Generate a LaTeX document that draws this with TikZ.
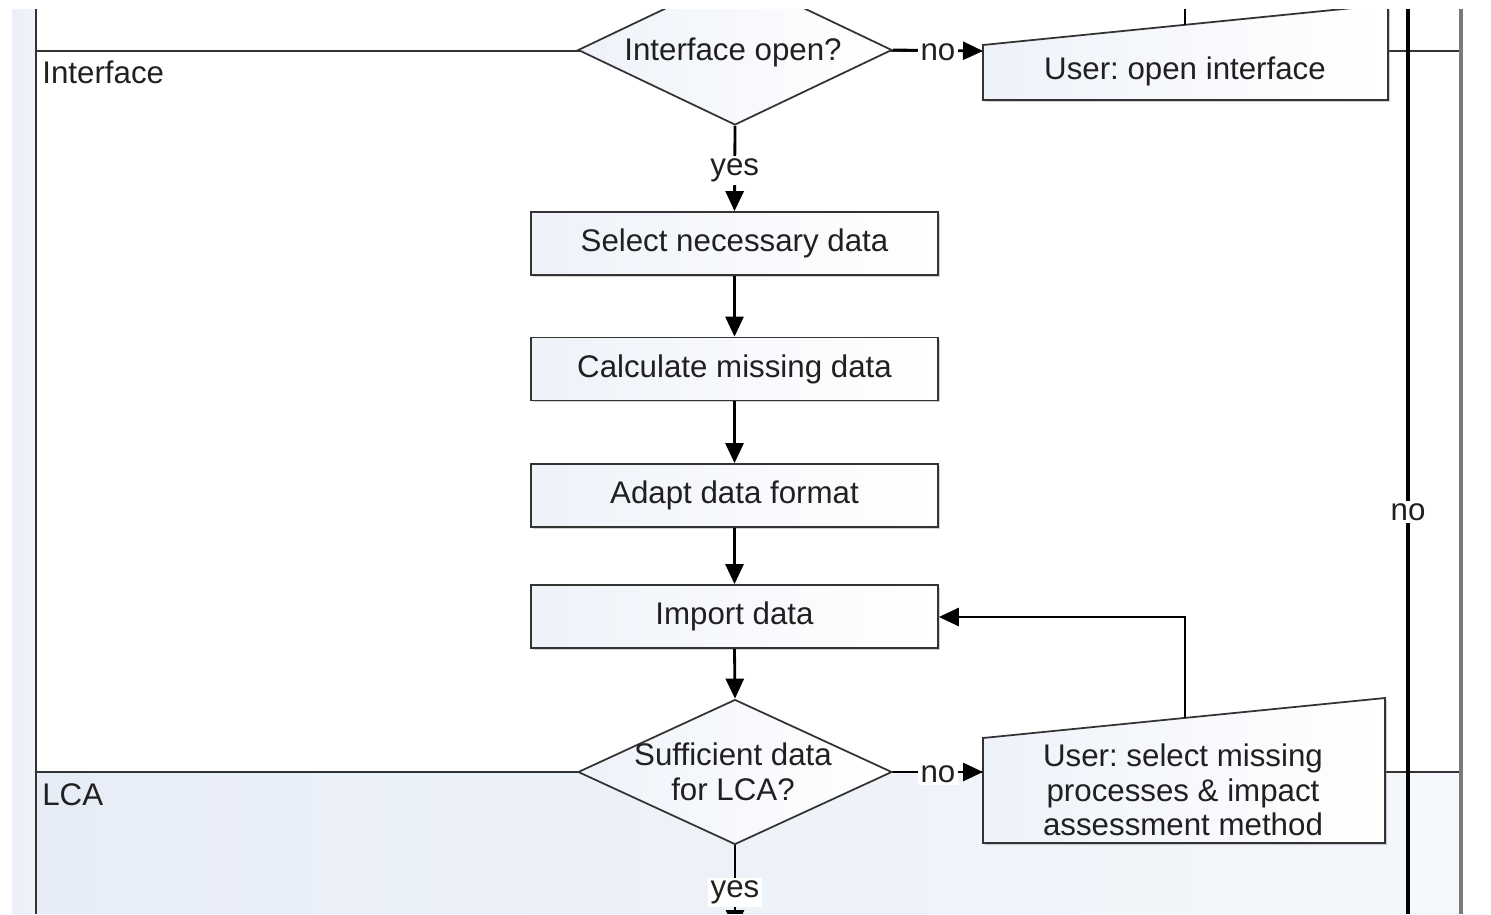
\documentclass[tikz,border=0pt]{standalone}
\usepackage{fontspec}
\setmainfont{Liberation Sans}
\frenchspacing
\usetikzlibrary{shapes.geometric,arrows.meta,shadows}
\definecolor{lanebg}{HTML}{E7EDF7}
\definecolor{lanebgr}{HTML}{F4F7FB}
\definecolor{stripbg}{HTML}{EBF0F8}
\definecolor{shapebg}{HTML}{EEF2F9}
\definecolor{edge}{HTML}{333333}
\definecolor{txt}{HTML}{202020}
\definecolor{rim}{HTML}{7A7A7A}
\tikzset{
  stepbox/.style={draw=edge, line width=1pt, left color=shapebg, right color=white,
    minimum width=8.14cm, minimum height=1.26cm, inner sep=0pt,
    drop shadow={opacity=0.35, shadow xshift=0.04cm, shadow yshift=-0.04cm}},
  decide/.style={diamond, draw=edge, line width=1pt, left color=shapebg, right color=white,
    inner sep=0pt},
  manual/.style={draw=edge, line width=1pt, left color=shapebg, right color=white},
  flow/.style={-{Triangle[length=0.4cm,width=0.36cm]}, line width=1.6pt, black},
  plain/.style={line width=1.6pt, black},
  lab/.style={fill=white, inner sep=1.5pt, text=txt, yshift=-1.2pt},
  lane/.style={line width=1.3pt, edge},
}
\begin{document}
\begin{tikzpicture}[x=0.02cm, y=-0.02cm, font=\fontsize{17.8}{19.8}\selectfont, text=txt]
\useasboundingbox (0,0) rectangle (1491,915);
\fill[white] (0,0) rectangle (1491,915);
\begin{scope}
\clip (12,10) rectangle (1465,913);
% backgrounds
\shade[left color=stripbg, right color=stripbg!70!white] (12,0) rectangle (36,930);
\shade[left color=lanebg, right color=lanebgr] (36,772) rectangle (1461,930);
% lane lines
\draw[lane] (36,51) -- (1461,51);
\draw[lane] (36,772) -- (1461,772);
\draw[line width=1.6pt, edge] (36,0) -- (36,930);
\draw[line width=2pt, rim] (1461,0) -- (1461,930);
\node[anchor=north west, inner sep=0pt] (laneA) at (42,61) {Interface};
\node[anchor=north west, inner sep=0pt] (laneB) at (42,783) {LCA};

% long return line on the right
\coordinate (rtop) at (1408,-10);
\coordinate (rbot) at (1408,940);
\draw[line width=2pt, black] (rtop) -- node[lab, pos=0.547] {no} (rbot);

% decisions
\node[decide, minimum width=6.28cm, minimum height=3cm] (d1) at (735,50) {};
\node (d1t) at (733,52) {Interface open?};
\node[decide, minimum width=6.28cm, minimum height=2.9cm] (d2) at (735,772) {};
\node[align=center] (d2t) at (733,772) {Sufficient data\\for LCA?};

% steps
\node[stepbox] (b1) at (734.5,243.5) {Select necessary data};
\node[stepbox] (b2) at (734.5,369) {Calculate missing data};
\node[stepbox] (b3) at (734.5,495.5) {Adapt data format};
\node[stepbox] (b4) at (734.5,616.5) {Import data};

% manual inputs
\coordinate (m1a) at (983,45);
\coordinate (m1b) at (1388,4.5);
\coordinate (m1c) at (1388,100);
\coordinate (m1d) at (983,100);
\draw[manual, drop shadow={opacity=0.35, shadow xshift=0.04cm, shadow yshift=-0.04cm}] (m1a) -- (m1b) -- (m1c) -- (m1d) -- cycle;
\node (m1) at (1185,71) {User: open interface};
\coordinate (m1in) at (983,51);
\coordinate (m1top) at (1185,24.8);
\coordinate (m1up) at (1185,-10);

\coordinate (m2a) at (983,738);
\coordinate (m2b) at (1385,698);
\coordinate (m2c) at (1385,843);
\coordinate (m2d) at (983,843);
\draw[manual, drop shadow={opacity=0.35, shadow xshift=0.04cm, shadow yshift=-0.04cm}] (m2a) -- (m2b) -- (m2c) -- (m2d) -- cycle;
\node[align=center] (m2) at (1183,790) {User: select missing\\processes \& impact\\assessment method};
\coordinate (m2in) at (983,772);
\coordinate (m2top) at (1185,717.9);
\coordinate (loop) at (1185,617);
\coordinate (down) at (735,930);

% connectors
\draw[flow] (d1.south) -- node[lab, pos=0.5] {yes} (b1.north);
\draw[flow] (b1.south) -- (b2.north);
\draw[flow] (b2.south) -- (b3.north);
\draw[flow] (b3.south) -- (b4.north);
\draw[flow] (b4.south) -- (d2.north);
\draw[flow] (d1.east) -- node[lab] {no} (m1in);
\draw[flow] (d2.east) -- node[lab] {no} (m2in);
\draw[flow] (d2.south) -- node[lab, pos=0.53] {yes} (down);
\draw[flow] (m2top) -- (loop) -- (b4.east |- loop);
\draw[plain] (m1top) -- (m1up);
\end{scope}
\end{tikzpicture}
\end{document}
